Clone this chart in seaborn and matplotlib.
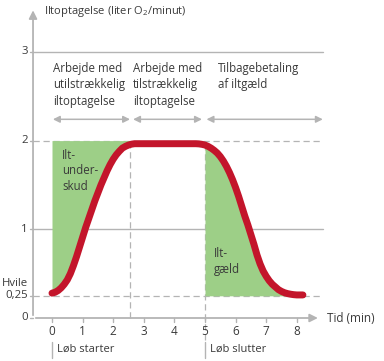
import pandas as pd
import matplotlib.pyplot as plt
import seaborn as sns

# data

tid = [0.0, 0.1, 0.2, 0.3, 0.4, 0.5, 0.6, 0.7, 0.8, 0.9, 1.0, 1.1, 1.2, 1.3,
       1.4, 1.5, 1.6, 1.7, 1.8, 1.9, 2.0, 2.1, 2.2, 2.3, 2.4, 2.5, 2.6, 2.7,
       2.8, 3.0, 3.5, 4.0, 4.5, 4.7, 4.8, 4.9, 5.0, 5.1, 5.2, 5.3, 5.4, 5.5,
       5.6, 5.7, 5.8, 5.9, 6.0, 6.1, 6.2, 6.3, 6.4, 6.5, 6.6, 6.7, 6.8, 6.9,
       7.0, 7.1, 7.2, 7.3, 7.4, 7.5, 7.6, 7.7, 7.8, 7.9, 8.0, 8.1, 8.2]
ilt = [0.28, 0.29, 0.31, 0.34, 0.38, 0.43, 0.50, 0.59, 0.69, 0.80, 0.91, 1.02,
       1.12, 1.22, 1.32, 1.41, 1.50, 1.58, 1.66, 1.73, 1.79, 1.84, 1.88, 1.915,
       1.935, 1.95, 1.96, 1.965, 1.965, 1.965, 1.965, 1.965, 1.965, 1.965,
       1.963, 1.958, 1.95, 1.935, 1.915, 1.89, 1.86, 1.82, 1.77, 1.71, 1.64,
       1.56, 1.47, 1.37, 1.26, 1.15, 1.05, 0.94, 0.83, 0.71, 0.61, 0.53, 0.47,
       0.42, 0.38, 0.35, 0.32, 0.30, 0.285, 0.275, 0.268, 0.263, 0.26, 0.26,
       0.26]

x_ticks = [0, 1, 2, 3, 4, 5, 6, 7, 8]
y_ticks = [0, 0.25, 1, 2, 3]
y_tick_labels = ['0', '0,25', '1', '2', '3']
hvile = 0.25
plateau = 2
start_end = [0, 2.8]
debt_start_end = [5, 8.2]

phases = ['Arbejde med\nutilstrækkelig\niltoptagelse',
          'Arbejde med\ntilstrækkelig\niltoptagelse',
          'Tilbagebetaling\naf iltgæld']
phase_x = [0.03, 2.65, 5.42]
phase_arrows = [(0.03, 2.55), (2.65, 4.9), (5.05, 8.85)]

df = pd.DataFrame({'tid': tid, 'ilt': ilt})

# style

sns.set_style('white')
plt.rcParams['font.family'] = ['Open Sans', 'DejaVu Sans']
plt.rcParams['mathtext.fontset'] = 'custom'
plt.rcParams['mathtext.rm'] = 'Open Sans'

txt = '#3a3a3a'
grey = '#b4b4b4'
green = '#9dcf87'
red = '#c3152b'

fig = plt.figure(figsize=(3.84, 3.61), dpi=100)
ax = fig.add_axes([0, 0, 1, 1])
# pixel grid: x=0 at px 52 (30.6 px/unit), y=0 at px 318 (88.7 px/unit)
xlim = (-52 / 30.6, (384 - 52) / 30.6)
ylim = (-(361 - 318) / 88.7, 318 / 88.7)

x_axis = -0.62

# green areas
rise = df[(df.tid >= start_end[0]) & (df.tid <= start_end[1])]
ax.fill_between(rise.tid, rise.ilt, plateau, color=green, lw=0, zorder=1)
fall = df[(df.tid >= debt_start_end[0]) & (df.tid <= debt_start_end[1])]
ax.fill_between(fall.tid, hvile, fall.ilt, color=green, lw=0, zorder=1)

# grid lines
for yv in [1, 3]:
    ax.plot([x_axis, 8.85], [yv, yv], color=grey, lw=1, zorder=0)
for yv in [hvile, plateau]:
    ax.plot([x_axis, 8.85], [yv, yv], color=grey, lw=0.9, ls=(0, (5, 3)), zorder=0)
ax.plot([2.55, 2.55], [0, plateau], color=grey, lw=0.9, ls=(0, (5, 3)), zorder=0)
ax.plot([5, 5], [-0.25, plateau], color=grey, lw=0.9, ls=(0, (5, 3)), zorder=0)

# axes with arrows
ax.annotate('', xy=(x_axis, 3.5), xytext=(x_axis, 0),
            arrowprops=dict(arrowstyle='-|>', color=grey, lw=1.3, mutation_scale=12))
ax.annotate('', xy=(8.78, 0), xytext=(x_axis, 0),
            arrowprops=dict(arrowstyle='-|>', color=grey, lw=1.3, mutation_scale=12))

for xv in x_ticks:
    ax.plot([xv, xv], [0, -0.045], color=grey, lw=1)
    ax.text(xv, -0.155, str(xv), ha='center', va='center', fontsize=8.5, color=txt)
for yv, lab in zip(y_ticks, y_tick_labels):
    ax.plot([x_axis - 0.1, x_axis], [yv, yv], color=grey, lw=1)
    ax.text(-0.8, yv, lab, ha='right', va='center', fontsize=8.2, color=txt)
ax.text(-0.8, 0.39, 'Hvile', ha='right', va='center', fontsize=8.2, color=txt)

ax.text(-0.25, 3.45, 'Iltoptagelse (liter O$_\\mathregular{2}$/minut)',
        ha='left', va='center', fontsize=8, color=txt)
ax.text(8.98, 0, 'Tid (min)', ha='left', va='center', fontsize=8.5, color=txt)

# start / stop markers
for xv, lab in zip([0, 5], ['Løb starter', 'Løb slutter']):
    ax.plot([xv, xv], [-0.27, -0.45], color=grey, lw=1)
    ax.text(xv + 0.17, -0.35, lab, ha='left', va='center', fontsize=8, color=txt)

# phase texts and arrows
for xv, lab in zip(phase_x, phases):
    ax.text(xv, 2.89, lab, ha='left', va='top', fontsize=8.3, color=txt,
            linespacing=1.35)
for a, b in phase_arrows:
    ax.annotate('', xy=(b, 2.24), xytext=(a, 2.24),
                arrowprops=dict(arrowstyle='<|-|>', color=grey, lw=1.1,
                                mutation_scale=10, shrinkA=0, shrinkB=0))

ax.text(0.33, 1.91, 'Ilt-\nunder-\nskud', ha='left', va='top', fontsize=8.3,
        color=txt, linespacing=1.25)
ax.text(5.3, 0.8, 'Ilt-\ngæld', ha='left', va='top', fontsize=8.3,
        color=txt, linespacing=1.25)

# oxygen uptake curve
sns.lineplot(data=df, x='tid', y='ilt', color=red, lw=5, ax=ax,
             solid_capstyle='round', solid_joinstyle='round', zorder=3)
ax.set_xlim(*xlim)
ax.set_ylim(*ylim)
ax.axis('off')

fig.savefig('out.png', dpi=100)
